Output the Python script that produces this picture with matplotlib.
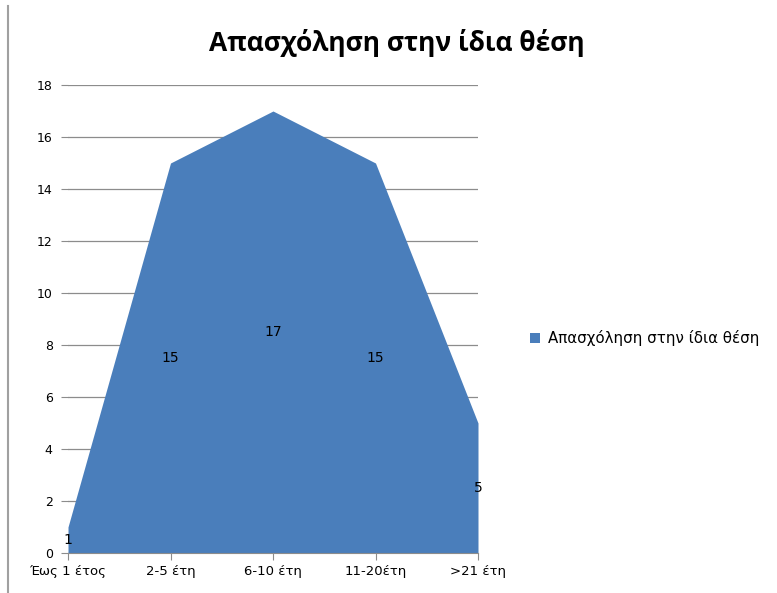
import matplotlib
matplotlib.use("Agg")
import matplotlib.pyplot as plt
from matplotlib.lines import Line2D
from matplotlib.patches import Patch

categories = ["Έως 1 έτος", "2-5 έτη", "6-10 έτη", "11-20έτη", ">21 έτη"]
values = [1, 15, 17, 15, 5]
series_name = "Απασχόληση στην ίδια θέση"
title = "Απασχόληση στην ίδια θέση"
yticks = [0, 2, 4, 6, 8, 10, 12, 14, 16, 18]

fill_color = "#4a7ebb"
grid_color = "#8c8c8c"

plt.rcParams["font.family"] = ["DejaVu Sans"]

fig = plt.figure(figsize=(7.77, 5.93), dpi=100)
ax = fig.add_axes([68 / 777, 40 / 593, 410 / 777, 468 / 593])

x = list(range(len(categories)))
ax.fill_between(x, 0, values, color=fill_color, linewidth=0, zorder=2)

ax.set_xlim(0, len(categories) - 1)
ax.set_ylim(0, 18)
ax.set_yticks(yticks)
ax.set_yticklabels([str(t) for t in yticks], fontsize=9)
ax.set_xticks(x)
ax.set_xticklabels(categories, fontsize=9.5)

ax.grid(axis="y", color=grid_color, linewidth=0.9, zorder=1)
for side in ("top", "right", "left"):
    ax.spines[side].set_visible(False)
ax.spines["bottom"].set_color(grid_color)
ax.spines["bottom"].set_zorder(3)
ax.tick_params(axis="y", length=5, color=grid_color, pad=6)
ax.tick_params(axis="x", length=5, color=grid_color, pad=4)

# value labels at half the height of each point
for xi, v in zip(x, values):
    ax.text(xi, v / 2, str(v), ha="center", va="center", fontsize=10, zorder=4)

fig.text(397 / 777, 1 - 43 / 593, title, ha="center", va="center",
         fontsize=19, fontweight="bold", family=["Open Sans", "DejaVu Sans"])

handle = Patch(facecolor=fill_color, edgecolor="none")
fig.legend([handle], [series_name], loc="center left",
           bbox_to_anchor=(516 / 777, 1 - 338 / 593), frameon=False,
           fontsize=10.8, handlelength=0.7, handleheight=0.7, handletextpad=0.5)

# thin frame line on the left edge
fig.add_artist(Line2D([8 / 777, 8 / 777], [0, 1 - 6 / 593],
                      transform=fig.transFigure, color="#a0a0a0", linewidth=1.5))

fig.savefig("out.png", dpi=100)
